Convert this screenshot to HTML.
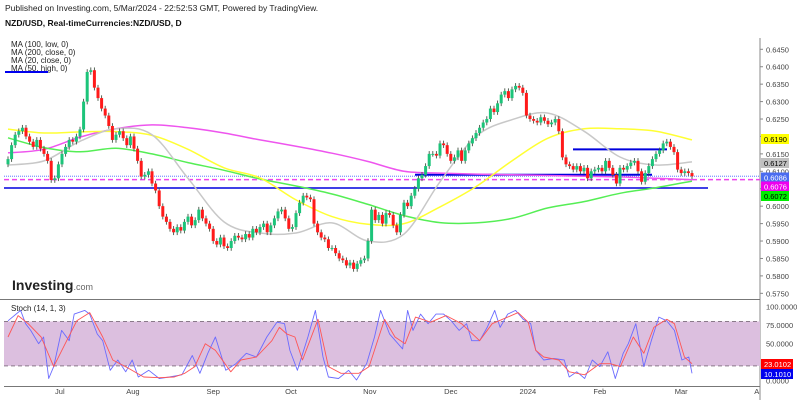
<!DOCTYPE html>
<html><head><meta charset="utf-8"><style>
body{margin:0;background:#fff;width:800px;height:400px;overflow:hidden;font-family:"Liberation Sans",sans-serif}
svg{position:absolute;left:0;top:0}
text{font-family:"Liberation Sans",sans-serif}
</style></head><body>
<svg id="c" width="800" height="400">
<text x="5" y="11" font-size="8.5" fill="#222">Published on Investing.com, 5/Mar/2024 - 22:52:53 GMT, Powered by TradingView.</text>
<text x="5" y="26" font-size="8.5" font-weight="bold" fill="#111">NZD/USD, Real-timeCurrencies:NZD/USD, D</text>
<g font-size="8" fill="#222">
<text x="11" y="47">MA (100, low, 0)</text>
<text x="11" y="55">MA (200, close, 0)</text>
<text x="11" y="63">MA (20, close, 0)</text>
<text x="11" y="71">MA (50, high, 0)</text>
</g>
<line x1="5" y1="72" x2="48" y2="72" stroke="#0000ee" stroke-width="2"/>
<text x="12" y="290" font-size="14" font-weight="bold" fill="#222">Investing<tspan font-size="9" font-weight="normal" fill="#666">.com</tspan></text>
<text x="11" y="311" font-size="8" fill="#222">Stoch (14, 1, 3)</text>
</svg>
<script>
const closes=[0.6135,0.6175,0.6205,0.6215,0.6225,0.6200,0.6185,0.6170,0.6190,0.6165,0.6150,0.6130,0.6075,0.6080,0.6120,0.6150,0.6170,0.6190,0.6185,0.6200,0.6220,0.6300,0.6385,0.6390,0.6340,0.6310,0.6280,0.6260,0.6230,0.6190,0.6205,0.6215,0.6195,0.6175,0.6200,0.6165,0.6130,0.6085,0.6090,0.6100,0.6065,0.6045,0.6000,0.5970,0.5955,0.5935,0.5925,0.5940,0.5930,0.5955,0.5970,0.5945,0.5960,0.5990,0.5965,0.5950,0.5935,0.5900,0.5890,0.5910,0.5885,0.5880,0.5900,0.5915,0.5910,0.5905,0.5920,0.5910,0.5935,0.5925,0.5940,0.5950,0.5925,0.5945,0.5965,0.5985,0.5990,0.5965,0.5935,0.5940,0.5980,0.6010,0.6030,0.6025,0.6020,0.5950,0.5925,0.5910,0.5905,0.5880,0.5880,0.5865,0.5850,0.5845,0.5830,0.5838,0.5820,0.5835,0.5845,0.5850,0.5900,0.5990,0.5960,0.5975,0.5950,0.5980,0.5975,0.5945,0.5925,0.5975,0.6010,0.6000,0.6030,0.6050,0.6080,0.6090,0.6115,0.6150,0.6150,0.6145,0.6180,0.6175,0.6150,0.6130,0.6140,0.6160,0.6130,0.6160,0.6180,0.6195,0.6210,0.6225,0.6240,0.6250,0.6280,0.6270,0.6295,0.6320,0.6330,0.6310,0.6335,0.6345,0.6340,0.6325,0.6260,0.6250,0.6245,0.6240,0.6255,0.6245,0.6235,0.6240,0.6250,0.6215,0.6140,0.6120,0.6115,0.6105,0.6115,0.6100,0.6110,0.6080,0.6100,0.6105,0.6110,0.6100,0.6130,0.6110,0.6090,0.6065,0.6110,0.6105,0.6115,0.6125,0.6130,0.6100,0.6070,0.6095,0.6115,0.6135,0.6150,0.6160,0.6180,0.6185,0.6170,0.6155,0.6105,0.6095,0.6100,0.6095,0.6086];
const firstOpen=0.6120;
const wick=0.0008;
const ma200=[0.6153,0.6163,0.6198,0.6222,0.6233,0.6225,0.6210,0.6190,0.6172,0.6152,0.6128,0.6100,0.6095,0.6092,0.6090,0.6088,0.6086,0.6084,0.6080,0.6076];
const ma100=[0.6196,0.6168,0.6156,0.6166,0.6150,0.6125,0.6103,0.6078,0.6058,0.6035,0.6005,0.5973,0.5953,0.5952,0.5965,0.5995,0.6013,0.6037,0.6053,0.6072];
const ma50=[0.6221,0.6210,0.6213,0.6214,0.6203,0.6163,0.6110,0.6081,0.6018,0.5970,0.5948,0.5950,0.5998,0.6056,0.6130,0.6195,0.6222,0.6222,0.6215,0.6190];
const ma20=[0.6118,0.6130,0.6186,0.6222,0.6205,0.6080,0.5955,0.5923,0.5923,0.5952,0.5900,0.5920,0.6070,0.6200,0.6248,0.6267,0.6215,0.6141,0.6118,0.6127];
const maStep=10;
const priceTicks=[0.6450,0.6400,0.6350,0.6300,0.6250,0.6200,0.6150,0.6100,0.6050,0.6000,0.5950,0.5900,0.5850,0.5800,0.5750];
const monthLabels=["Jul","Aug","Sep","Oct","Nov","Dec","2024","Feb","Mar","A"];
const monthIdx=[14.4,34.7,57,78.6,100.5,123,144.4,164.4,187,208];
const kIdx=[0,3.5,4.9,6.3,8.5,9.9,11.3,12.7,14.9,17,18.4,21.3,22.7,24.8,26.3,28.4,30.5,32.7,34.5,36.2,39.1,42,44.8,48.3,51.2,53.3,55.5,57.6,60.5,63.3,66.2,69,71.9,74.7,76.8,78.3,80.4,83.3,85.4,87.5,89,91.8,94.6,96.8,99.6,101.8,103.5,106,109.6,111,112.5,114.6,116.7,118.9,121,123.1,125.3,127.4,128.8,131,133.1,135.2,136.7,138.8,141,143.1,145.2,146.6,148.8,151.6,154.5,155.9,158,160.2,162.3,164.4,166.6,168.7,170.9,172.3,174.4,176.6,178.7,180.8,183,185.1,187.2,189.1,190];
const kVal=[81,95,77,68,50,59,3,19,68,54,90,95,90,63,54,14,28,12,28,5,14,3,5,8,34,10,37,59,14,23,37,32,59,79,77,41,14,59,95,32,5,3,14,1,23,59,95,63,43,95,68,90,77,90,90,81,68,77,54,54,72,95,72,90,95,83,77,41,28,30,28,5,12,3,28,19,39,3,37,50,77,19,54,86,81,68,28,32,10];
const dIdx=[0,2.8,5.6,9.2,12.7,16.3,19.1,22.7,26.3,29.1,33.4,37.7,42,46.2,49.1,51.9,54.8,57.6,61.9,64.7,69,73.3,75.4,77.5,79.7,81.8,86.1,89,92.5,97.5,100.3,104.6,107.5,110.3,113.2,117.4,121.7,126,131,134.5,138.8,141.7,144.5,146.6,148.8,153,155.9,160.2,164.4,167.3,170.1,173.7,176.6,179.4,183,185.1,187.9,190];
const dVal=[59,88,77,59,19,54,81,92,59,28,17,5,4,5,10,19,50,41,12,28,32,54,72,63,59,28,83,19,10,10,19,83,59,50,86,79,88,77,54,77,86,92,79,41,32,28,12,8,23,23,19,59,37,72,83,77,32,23];
const stochTicks=[100,75,50,0];
const stochTickVals=["100.0000","75.0000","50.0000","0.0000"];

const svg=document.getElementById('c');
const NS='http://www.w3.org/2000/svg';
const X0=8,DX=3.6,AX=760;
const xs=i=>X0+DX*i;
const ys=p=>49.3+(0.645-p)*3486;
const yst=v=>380.7-v*0.74;
function mk(tag,attrs,parent){const e=document.createElementNS(NS,tag);for(const k in attrs)e.setAttribute(k,attrs[k]);(parent||svg).appendChild(e);return e;}

let e;
e=mk('line',{x1:AX,y1:38,x2:AX,y2:400,stroke:'#888','stroke-width':1});


e=mk('line',{x1:0,y1:299.5,x2:AX,y2:299.5,stroke:'#777','stroke-width':1});


e=mk('line',{x1:4,y1:386.5,x2:AX,y2:386.5,stroke:'#777','stroke-width':1});


priceTicks.forEach(p=>{
  const t=mk('text',{x:AX+6,y:ys(p)+3,'font-size':7.5,fill:'#444'});
  t.textContent=p.toFixed(4);
  
  
  mk('line',{x1:AX,y1:ys(p),x2:AX+3,y2:ys(p),stroke:'#888'});
});
monthLabels.forEach((m,i)=>{
  const t=mk('text',{x:xs(monthIdx[i]),y:394,'font-size':7.5,fill:'#444','text-anchor':'middle'});
  t.textContent=m;
  
  
});

e=mk('rect',{x:4,y:yst(80),width:AX-4,height:yst(20)-yst(80),fill:'#dcbfdf'});


[80,20].forEach(v=>{
  e=mk('line',{x1:4,y1:yst(v),x2:AX,y2:yst(v),stroke:'#8a7a8a','stroke-dasharray':'4,3'});
  
  
});
stochTicks.forEach((v,i)=>{
  const t=mk('text',{x:AX+6,y:yst(v)+3,'font-size':7.5,fill:'#444'});
  t.textContent=stochTickVals[i];
  
  
});
function poly(idx,vals,fy,color,name,w){
  const pts=vals.map((v,i)=>xs(idx[i]).toFixed(1)+','+fy(v).toFixed(1)).join(' ');
  const p=mk('polyline',{points:pts,fill:'none',stroke:color,'stroke-width':w||1,'stroke-linejoin':'round'});
  
  
}
function smooth(vals,color,name){
  const P=vals.map((v,i)=>[xs(i*maStep),ys(v)]);
  let d='M'+P[0][0].toFixed(1)+','+P[0][1].toFixed(1);
  for(let i=0;i<P.length-1;i++){
    const p0=P[Math.max(0,i-1)],p1=P[i],p2=P[i+1],p3=P[Math.min(P.length-1,i+2)];
    const c1=[p1[0]+(p2[0]-p0[0])/6,p1[1]+(p2[1]-p0[1])/6];
    const c2=[p2[0]-(p3[0]-p1[0])/6,p2[1]-(p3[1]-p1[1])/6];
    d+='C'+c1.map(n=>n.toFixed(1)).join(',')+' '+c2.map(n=>n.toFixed(1)).join(',')+' '+p2.map(n=>n.toFixed(1)).join(',');
  }
  const p=mk('path',{d:d,fill:'none',stroke:color,'stroke-width':1.5});
  
  
}
poly(kIdx,kVal,yst,'#6b6bff','stoch-k-line',0.9);
poly(dIdx,dVal,yst,'#ff5555','stoch-d-line',0.9);

e=mk('line',{x1:4,y1:ys(0.6052),x2:708,y2:ys(0.6052),stroke:'#0000dd','stroke-width':1.5});


e=mk('line',{x1:415,y1:ys(0.6090),x2:652,y2:ys(0.6090),stroke:'#0000dd','stroke-width':2});


e=mk('line',{x1:573,y1:ys(0.6163),x2:667,y2:ys(0.6163),stroke:'#0000dd','stroke-width':2});


e=mk('line',{x1:4,y1:ys(0.6086),x2:AX,y2:ys(0.6086),stroke:'#4466ff','stroke-width':0.8,'stroke-dasharray':'1,1'});


e=mk('line',{x1:4,y1:ys(0.6076),x2:AX,y2:ys(0.6076),stroke:'#ee44ee','stroke-width':1.5,'stroke-dasharray':'5,3'});



smooth(ma200,'#ee55ee','ma200-line');
smooth(ma100,'#55ee55','ma100-line');
smooth(ma50,'#ffff33','ma50-line');
smooth(ma20,'#c8c8c8','ma20-line');

closes.forEach((c,i)=>{
  const o=i===0?firstOpen:closes[i-1];
  const up=c>=o;
  const x=xs(i);
  const g=mk('g',{});
  
  
  mk('line',{x1:x,y1:ys(Math.max(o,c)+wick),x2:x,y2:ys(Math.min(o,c)-wick),stroke:'#445544','stroke-width':0.9},g);
  const top=ys(Math.max(o,c)),bot=ys(Math.min(o,c));
  mk('rect',{x:x-1.5,y:top,width:3,height:Math.max(1,bot-top),fill:up?'#1cc47a':'#ff1a1a'},g);
});

const lbls=[[0.6190,139,'#ffff00','#000','ma50-value-label'],[0.6127,163,'#c0c0c0','#000','ma20-value-label'],[0.6086,177.5,'#4a6cf0','#fff','last-price-label'],[0.6076,186.5,'#ee00ee','#fff','ma200-value-label'],[0.6072,196,'#00ee00','#000','ma100-value-label']];
lbls.forEach(l=>{
  const r=mk('rect',{x:AX+1,y:l[1]-5,width:28,height:10,fill:l[2]});
  
  
  const t=mk('text',{x:AX+4,y:l[1]+3,'font-size':7.5,fill:l[3]});
  t.textContent=l[0].toFixed(4);
  
  
});
[[23.0102,364,'#ff0000','stoch-d-value-label'],[10.1010,374,'#0000ee','stoch-k-value-label']].forEach(l=>{
  const r=mk('rect',{x:AX+1,y:l[1]-5,width:32,height:10,fill:l[2]});
  
  
  const t=mk('text',{x:AX+4,y:l[1]+3,'font-size':7.5,fill:'#fff'});
  t.textContent=l[0].toFixed(4);
  
  
});
</script>
</body></html>
